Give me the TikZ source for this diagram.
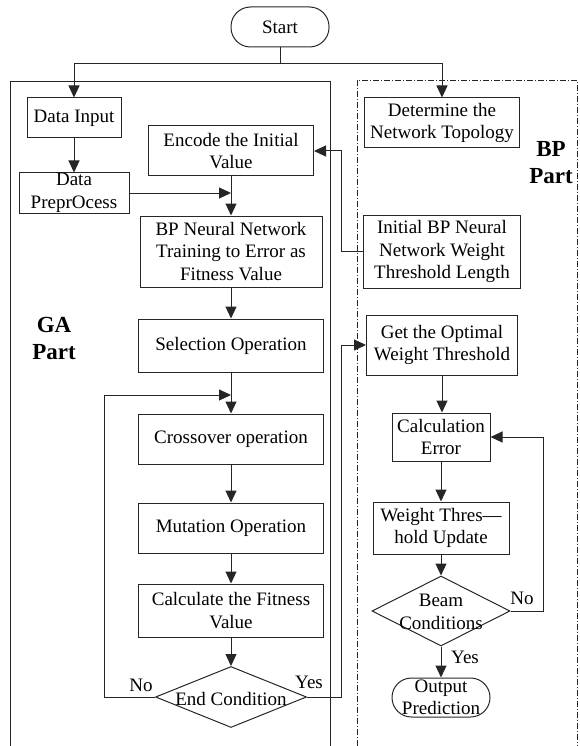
\documentclass[tikz,border=0pt]{standalone}
\usepackage{fontspec}
\setmainfont{Liberation Serif}
\usetikzlibrary{arrows.meta,shapes.geometric}
\newcommand\boxfont{\fontsize{19}{22.5}\selectfont}
\newcommand\partfont{\fontsize{23}{27}\selectfont\bfseries}
\tikzset{
  link/.style={line width=1pt, draw=black!85},
  arr/.style={link, -{Triangle[length=12pt,width=11pt]}},
  box/.style={draw=black!85, line width=1pt, rectangle, inner sep=0pt, align=center, font=\boxfont},
  term/.style={box, rounded corners=19.5pt},
  dia/.style={draw=black!85, line width=1pt, diamond, inner sep=0pt},
  txt/.style={inner sep=0pt, align=center, font=\boxfont},
  frame/.style={line width=1pt, draw=black!85},
  dashframe/.style={line width=0.8pt, draw=black!85, dash pattern=on 6pt off 2pt on 1pt off 2pt},
}
\begin{document}
\begin{tikzpicture}[x=1pt,y=-1pt]
\useasboundingbox (0,0) rectangle (580,746);

% part frames
\draw[frame] (10,746) -- (10,82) -- (330,82) -- (330,746);
\draw[dashframe] (357,746) -- (357,80) -- (577,80) -- (577,746);
\node[font=\partfont, align=center] (gapart) at (54,338) {GA\\Part};
\node[font=\partfont, align=center] (bppart) at (551,163) {BP\\Part};

% start
\node[term, minimum width=98pt, minimum height=40pt] (start) at (280,27) {Start};

% GA column
\node[box, minimum width=94pt, minimum height=40pt] (datain) at (74,118) {Data Input};
\node[box, minimum width=110pt, minimum height=40pt] (prep) at (74,193) {Data\\PreprOcess};
\node[box, minimum width=165pt, minimum height=50pt] (encode) at (231,151) {Encode the Initial\\Value};
\node[box, minimum width=182pt, minimum height=71pt] (bpnn) at (231,251.5) {BP Neural Network\\Training to Error as\\Fitness Value};
\node[box, minimum width=185pt, minimum height=53pt] (sel) at (231,345.5) {Selection Operation};
\node[box, minimum width=185pt, minimum height=50pt] (cross) at (231,439) {Crossover operation};
\node[box, minimum width=185pt, minimum height=50pt] (mut) at (231,528) {Mutation Operation};
\node[box, minimum width=185pt, minimum height=53pt] (calc) at (231,610.5) {Calculate the Fitness\\Value};
\node[dia, minimum width=151pt, minimum height=61pt] (endc) at (231,697) {};
\node[txt] (endctxt) at (231,699) {End Condition};

% BP column
\node[box, minimum width=155pt, minimum height=50pt] (topo) at (442,123) {Determine the\\Network Topology};
\node[box, minimum width=157pt, minimum height=73pt] (init) at (442,251.5) {Initial BP Neural\\Network Weight\\Threshold Length};
\node[box, minimum width=151pt, minimum height=60pt] (opt) at (442,345) {Get the Optimal\\Weight Threshold};
\node[box, minimum width=98pt, minimum height=48pt] (err) at (441,437) {Calculation\\Error};
\node[box, minimum width=136pt, minimum height=52pt] (upd) at (441,528) {Weight Thres—\\hold Update};
\node[dia, minimum width=138pt, minimum height=70pt] (beam) at (441,611) {};
\node[txt] (beamtxt) at (441,612) {Beam\\Conditions};
\node[term, minimum width=98pt, minimum height=39pt] (out) at (441,697.5) {Output\\Prediction};

% junction points
\coordinate (split) at (280,64);
\coordinate (feedr) at (341,251.5);
\coordinate (loopl) at (104,697);
\coordinate (merge) at (231,395);
\coordinate (yesr) at (341,697);
\coordinate (beamr) at (543,611);

% connectors
\draw[link] (start.south) -- (split);
\draw[arr] (split) -| (datain.north);
\draw[arr] (split) -| (topo.north);
\draw[arr] (datain.south) -- (datain.south |- prep.north);
\draw[arr] (prep.east) -- (prep.east -| encode.south);
\draw[arr] (encode.south) -- (bpnn.north);
\draw[arr] (init.west) -- (feedr) |- (encode.east);
\draw[arr] (bpnn.south) -- (sel.north);
\draw[arr] (sel.south) -- (cross.north);
\draw[arr] (endc.west) -- (loopl) |- (merge);
\draw[arr] (cross.south) -- (mut.north);
\draw[arr] (mut.south) -- (calc.north);
\draw[arr] (calc.south) -- (endc.north);
\draw[arr] (endc.east) -- (yesr) |- (opt.west);
\draw[arr] (opt.south) -- (opt.south |- err.north);
\draw[arr] (err.south) -- (upd.north);
\draw[arr] (upd.south) -- (beam.north);
\draw[arr] (beam.east) -- (beamr) |- (err.east);
\draw[arr] (beam.south) -- (out.north);

% branch labels
\node[txt] (nol) at (141,685) {No};
\node[txt] (yesl) at (309,682) {Yes};
\node[txt] (nob) at (522,598) {No};
\node[txt] (yesb) at (465,657) {Yes};
\end{tikzpicture}
\end{document}
